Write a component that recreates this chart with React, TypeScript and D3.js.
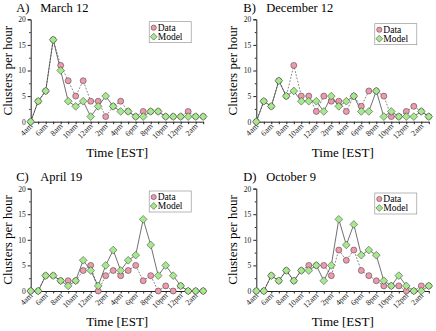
import React, { useEffect, useRef } from 'react';
import * as d3 from 'd3';

const hourLabels = ['4am', '6am', '8am', '10am', '12am', '2pm', '4pm', '6pm', '8pm', '10pm', '12pm', '2am'];
const hours = d3.range(24);

const panelTitles = ['A)', 'B)', 'C)', 'D)'];
const panelDates = ['March 12', 'December 12', 'April 19', 'October 9'];

const dataA = [0, 4, 6, 16, 11, 8, 5, 8, 4, 4, 1, 3, 4, 2, 1, 2, 2, 2, 1, 1, 1, 2, 1, 1];
const modelA = [0, 4, 6, 16, 10, 4, 3, 4, 1, 3, 5, 3, 2, 2, 1, 1, 2, 2, 1, 1, 1, 1, 1, 1];
const dataB = [0, 4, 3, 8, 5, 11, 5, 5, 2, 5, 4, 4, 2, 5, 3, 6, 6, 5, 1, 1, 2, 3, 2, 1];
const modelB = [0, 4, 3, 8, 5, 6, 4, 4, 4, 2, 5, 3, 4, 5, 2, 2, 6, 1, 2, 1, 1, 1, 2, 1];
const dataC = [0, 0, 3, 3, 2, 2, 2, 4, 5, 0, 3, 4, 3, 4, 5, 2, 3, 0, 1, 0, 1, 0, 0, 0];
const modelC = [0, 0, 3, 3, 2, 1, 2, 6, 4, 1, 5, 8, 4, 6, 7, 14, 9, 3, 5, 3, 1, 0, 0, 0];
const dataD = [0, 0, 3, 2, 4, 2, 4, 5, 5, 5, 3, 8, 6, 8, 4, 3, 2, 1, 1, 1, 0, 0, 1, 1];
const modelD = [0, 0, 3, 2, 4, 2, 4, 4, 5, 2, 5, 14, 9, 13, 7, 8, 7, 2, 1, 3, 1, 0, 0, 1];

const dataSeries = [dataA, dataB, dataC, dataD];
const modelSeries = [modelA, modelB, modelC, modelD];

const App = () => {
  const ref = useRef(null);

  useEffect(() => {
    const svg = d3.select(ref.current);
    svg.selectAll('*').remove();
    const font = 'Liberation Serif, Times New Roman, serif';
    const pink = '#ee9aac';
    const green = '#a6e88e';

    for (let p = 0; p < 4; p++) {
      const col = p % 2;
      const row = Math.floor(p / 2);
      const left = 30.7 + col * 225.6;
      const zeroY = 121.7 + row * 169.3;
      const g = svg.append('g').attr('font-family', font).attr('font-weight', 'normal');

      const x = d3.scaleLinear().domain([0, 23]).range([left, left + 172.5]);
      const y = d3.scaleLinear().domain([0, 20]).range([zeroY, zeroY - 102.4]);

      // titles
      g.append('text')
        .attr('x', left - 14.5 + col * 1.5)
        .attr('y', zeroY - 110)
        .attr('font-size', 12.5)
        .text(panelTitles[p]);
      g.append('text')
        .attr('x', left + 9.5 + col * 0.5)
        .attr('y', zeroY - 110)
        .attr('font-size', 12.5)
        .text(panelDates[p]);

      // y axis
      const yAxis = g.append('g')
        .attr('transform', `translate(${left},0)`)
        .call(d3.axisLeft(y).tickValues([0, 5, 10, 15, 20]).tickSize(3).tickPadding(2));
      yAxis.selectAll('text').attr('font-family', font).attr('font-size', 7.5).attr('fill', '#222');
      yAxis.select('.domain').attr('stroke', '#222');
      yAxis.selectAll('.tick line').attr('stroke', '#222');
      g.append('g')
        .attr('transform', `translate(${left},0)`)
        .call(d3.axisLeft(y).tickValues([2.5, 7.5, 12.5, 17.5]).tickSize(1.5).tickFormat(() => ''))
        .call((s) => s.select('.domain').remove())
        .selectAll('line').attr('stroke', '#222');

      // x axis
      const xAxis = g.append('g')
        .attr('transform', `translate(0,${zeroY})`)
        .call(d3.axisBottom(x).tickValues(hours).tickSize(2.5).tickSizeOuter(0).tickFormat(() => ''));
      xAxis.select('.domain').attr('stroke', '#222');
      xAxis.selectAll('line').attr('stroke', '#222');
      g.selectAll('.xlab')
        .data(hourLabels)
        .enter()
        .append('text')
        .attr('text-anchor', 'end')
        .attr('font-size', 8)
        .attr('fill', '#222')
        .attr('transform', (d, i) => `translate(${x(i * 2) + 2.5},${zeroY + 5}) rotate(-45)`)
        .text((d) => d);

      // axis titles
      g.append('text')
        .attr('transform', `translate(${left - 19},${zeroY - 51}) rotate(-90)`)
        .attr('text-anchor', 'middle')
        .attr('font-size', 13)
        .text('Clusters per hour');
      g.append('text')
        .attr('x', left + 86.5)
        .attr('y', zeroY + 35)
        .attr('text-anchor', 'middle')
        .attr('font-size', 13)
        .text('Time [EST]');

      const line = d3.line().x((d, i) => x(i)).y((d) => y(d));

      g.append('path')
        .datum(dataSeries[p])
        .attr('d', line)
        .attr('fill', 'none')
        .attr('stroke', '#333')
        .attr('stroke-width', 0.6)
        .attr('stroke-dasharray', '1.8,1.5');
      g.append('path')
        .datum(modelSeries[p])
        .attr('d', line)
        .attr('fill', 'none')
        .attr('stroke', '#333')
        .attr('stroke-width', 0.7);

      g.selectAll('.dot')
        .data(dataSeries[p])
        .enter()
        .append('circle')
        .attr('cx', (d, i) => x(i))
        .attr('cy', (d) => y(d))
        .attr('r', 3)
        .attr('fill', pink)
        .attr('stroke', '#333')
        .attr('stroke-width', 0.5);

      const diamond = d3.symbol().type(d3.symbolDiamond2).size(38);
      g.selectAll('.dia')
        .data(modelSeries[p])
        .enter()
        .append('path')
        .attr('d', diamond)
        .attr('transform', (d, i) => `translate(${x(i)},${y(d)})`)
        .attr('fill', green)
        .attr('stroke', '#333')
        .attr('stroke-width', 0.5);

      // legend
      const lx = left + 118.5;
      const ly = zeroY - 100 + (col === 1 ? 2 : 0);
      const lg = g.append('g').attr('transform', `translate(${lx},${ly})`);
      lg.append('rect')
        .attr('width', 42)
        .attr('height', 21)
        .attr('fill', 'white')
        .attr('stroke', '#888')
        .attr('stroke-width', 0.6);
      lg.append('circle').attr('cx', 4.5).attr('cy', 6).attr('r', 2.6)
        .attr('fill', pink).attr('stroke', '#333').attr('stroke-width', 0.5);
      lg.append('path').attr('d', d3.symbol().type(d3.symbolDiamond2).size(30))
        .attr('transform', 'translate(4.5,15)')
        .attr('fill', green).attr('stroke', '#333').attr('stroke-width', 0.5);
      lg.append('text').attr('x', 8.5).attr('y', 9.2).attr('font-size', 9.5).text('Data');
      lg.append('text').attr('x', 8.5).attr('y', 18.4).attr('font-size', 9.5).text('Model');
    }
  }, []);

  return (
    <svg
      ref={ref}
      width={436}
      height={331}
      style={{ position: 'absolute', left: 0, top: 0, background: 'white' }}
    />
  );
};

export default App;
